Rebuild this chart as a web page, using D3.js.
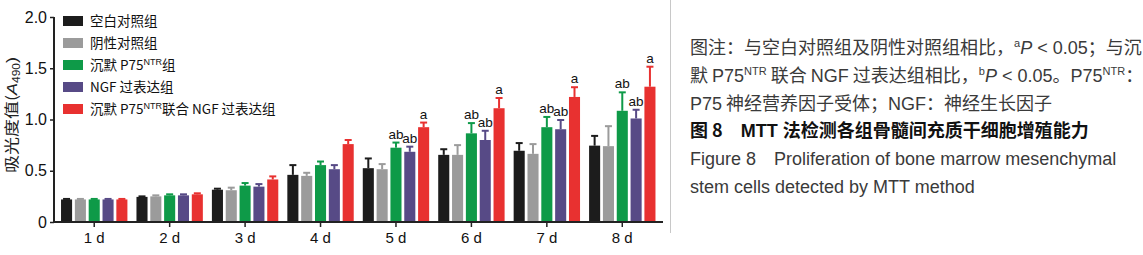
<!DOCTYPE html>
<html>
<head>
<meta charset="utf-8">
<script src="https://cdn.jsdelivr.net/npm/d3@7"></script>
<style>
  body { margin: 0; background: #fff; }
  svg { display: block; }
  .zh { font-family: "Noto Sans CJK SC", "Liberation Sans", sans-serif; }
  text { font-family: "Liberation Sans", "Noto Sans CJK SC", sans-serif; }
</style>
</head>
<body>
<svg id="chart" width="1143" height="255"></svg>
<script>
// categories / groups
const days = ["1 d", "2 d", "3 d", "4 d", "5 d", "6 d", "7 d", "8 d"];
const groups = ["blank", "neg", "siP75", "ngf", "siP75ngf"];
const legendNames = ["空白对照组", "阴性对照组", "沉默 P75|NTR|组", "NGF 过表达组", "沉默 P75|NTR|联合 NGF 过表达组"];
const colors = ["#1c1c1c", "#9b9b9b", "#0e9a48", "#574a86", "#e83130"];

// means per group (A490)
const blank    = [0.22, 0.245, 0.315, 0.46, 0.525, 0.655, 0.695, 0.745];
const neg      = [0.22, 0.25, 0.31, 0.45, 0.515, 0.655, 0.665, 0.74];
const siP75    = [0.22, 0.26, 0.355, 0.555, 0.725, 0.865, 0.925, 1.085];
const ngf      = [0.22, 0.26, 0.345, 0.515, 0.685, 0.80, 0.905, 1.01];
const siP75ngf = [0.22, 0.27, 0.415, 0.76, 0.925, 1.11, 1.22, 1.32];
// standard deviation (upper bars)
const blankSd    = [0.005, 0.005, 0.01, 0.095, 0.095, 0.055, 0.075, 0.095];
const negSd      = [0.005, 0.01, 0.025, 0.03, 0.05, 0.095, 0.095, 0.195];
const siP75Sd    = [0.005, 0.01, 0.025, 0.035, 0.05, 0.1, 0.1, 0.18];
const ngfSd      = [0.005, 0.01, 0.025, 0.04, 0.05, 0.09, 0.09, 0.085];
const siP75ngfSd = [0.005, 0.01, 0.03, 0.04, 0.045, 0.1, 0.095, 0.195];
// significance letters
const siP75Sig    = ["", "", "", "", "ab", "ab", "ab", "ab"];
const ngfSig      = ["", "", "", "", "ab", "ab", "ab", "ab"];
const siP75ngfSig = ["", "", "", "", "a", "a", "a", "a"];

const yTicks = [0, 0.5, 1.0, 1.5, 2.0];
const yTickLabels = ["0", "0.5", "1.0", "1.5", "2.0"];

const means = [blank, neg, siP75, ngf, siP75ngf];
const sds = [blankSd, negSd, siP75Sd, ngfSd, siP75ngfSd];
const sigs = [[], [], siP75Sig, ngfSig, siP75ngfSig];

const svg = d3.select("#chart");
const x0 = 54, x1 = 663, yTop = 17, yBot = 222;

let x = d3.scaleBand().domain(days).range([56.5, 660]).paddingInner(0.12).paddingOuter(0.06);
let xi = d3.scaleBand().domain(groups).range([0, x.bandwidth()]).paddingInner(0.2);
let y = d3.scaleLinear().domain([0, 2]).range([yBot, yTop]);

let rows = [];
days.forEach((d, i) => {
    groups.forEach((g, j) => {
        rows.push({day: d, group: g, gi: j, v: means[j][i], sd: sds[j][i], sig: sigs[j][i] || ""});
    });
});

// bars
let bars = svg.append("g");
bars.selectAll("rect")
    .data(rows)
    .enter()
    .append("rect")
    .attr("x", d => x(d.day) + xi(d.group))
    .attr("y", d => y(d.v))
    .attr("width", xi.bandwidth())
    .attr("height", d => yBot - y(d.v))
    .attr("fill", d => colors[d.gi]);

// error bars (upper only)
let errs = svg.append("g");
rows.forEach(d => {
    let cx = x(d.day) + xi(d.group) + xi.bandwidth() / 2;
    let top = y(d.v + d.sd);
    errs.append("line")
        .attr("x1", cx).attr("x2", cx)
        .attr("y1", y(d.v)).attr("y2", top)
        .attr("stroke", colors[d.gi]).attr("stroke-width", 2);
    errs.append("line")
        .attr("x1", cx - 3.5).attr("x2", cx + 3.5)
        .attr("y1", top).attr("y2", top)
        .attr("stroke", colors[d.gi]).attr("stroke-width", 2);
});

// significance letters
svg.append("g").selectAll("text")
    .data(rows.filter(d => d.sig !== ""))
    .enter()
    .append("text")
    .attr("x", d => x(d.day) + xi(d.group) + xi.bandwidth() / 2)
    .attr("y", d => y(d.v + d.sd) - 4)
    .attr("text-anchor", "middle")
    .attr("font-size", 13.5)
    .attr("fill", "#111")
    .text(d => d.sig);

// y axis
let yAxis = d3.axisLeft(y).tickValues(yTicks).tickFormat((d, i) => yTickLabels[i]).tickSize(4).tickSizeOuter(0);
let gy = svg.append("g").attr("transform", `translate(${x0},0)`).call(yAxis);
gy.select(".domain").attr("stroke", "#222").attr("stroke-width", 2).attr("d", `M0,${yTop}V${yBot + 1}`);
gy.selectAll(".tick line").attr("stroke", "#222").attr("stroke-width", 1.5);
gy.selectAll(".tick text").attr("font-size", 16).attr("fill", "#111").attr("x", -7)
    .attr("font-family", "Liberation Sans");

// x axis
let xAxis = d3.axisBottom(x).tickSize(5).tickSizeOuter(0);
let gx = svg.append("g").attr("transform", `translate(0,${yBot})`).call(xAxis);
gx.select(".domain").attr("stroke", "#222").attr("stroke-width", 2).attr("d", `M${x0 - 1},0H${x1}`);
gx.selectAll(".tick line").attr("stroke", "#222").attr("stroke-width", 1.5);
gx.selectAll(".tick text").attr("font-size", 15).attr("fill", "#111").attr("y", 10)
    .attr("font-family", "Liberation Sans");

// y axis title (stretched a little along its length, as in the source)
let yt = svg.append("text")
    .attr("transform", "translate(16.5,115) rotate(-90) scale(1.2,1)")
    .attr("text-anchor", "middle")
    .attr("font-size", 15)
    .attr("fill", "#222");
yt.append("tspan").attr("class", "zh").text("吸光度值(");
yt.append("tspan").attr("font-style", "italic").text("A");
yt.append("tspan").attr("font-size", 10).attr("dy", 3).text("490");
yt.append("tspan").attr("dy", -3).text(")");

// legend
let lg = svg.append("g");
legendNames.forEach((name, i) => {
    let ly = 21 + i * 22;
    lg.append("rect").attr("x", 63).attr("y", ly - 5).attr("width", 20).attr("height", 10)
        .attr("fill", colors[i]);
    let t = lg.append("text").attr("x", 90).attr("y", ly + 5).attr("font-size", 13.5).attr("fill", "#111");
    name.split("|").forEach((part, k) => {
        if (k === 1) {
            t.append("tspan").attr("font-size", 9).attr("dy", -5).text(part);
        } else if (k === 2) {
            t.append("tspan").attr("dy", 5).attr("class", "zh").text(part);
        } else {
            t.append("tspan").attr("class", "zh").text(part);
        }
    });
});

// separator
svg.append("line").attr("x1", 670.5).attr("x2", 670.5).attr("y1", 0).attr("y2", 233)
    .attr("stroke", "#c8c8c8").attr("stroke-width", 1);

// caption
const capX = 690;
const capColor = "#3a3a3a";
function capLine(yy, parts, bold) {
    let t = svg.append("text").attr("x", capX).attr("y", yy).attr("font-size", 18)
        .attr("fill", bold ? "#111" : capColor).attr("font-weight", bold ? "bold" : null);
    parts.forEach(p => {
        let s = t.append("tspan").text(p.t);
        if (p.zh) s.attr("class", "zh");
        if (p.it) s.attr("font-style", "italic");
        if (p.sup) s.attr("font-size", 11).attr("dy", -7);
        if (p.down) s.attr("dy", 7);
    });
    return t;
}
capLine(54, [
    {t: "图注：与空白对照组及阴性对照组相比，", zh: true},
    {t: "a", sup: true},
    {t: "P", it: true, down: true},
    {t: " < 0.05"},
    {t: "；与沉", zh: true}
]);
capLine(82, [
    {t: "默 ", zh: true},
    {t: "P75"},
    {t: "NTR", sup: true},
    {t: " 联合 ", zh: true, down: true},
    {t: "NGF"},
    {t: " 过表达组相比，", zh: true},
    {t: "b", sup: true},
    {t: "P", it: true, down: true},
    {t: " < 0.05"},
    {t: "。", zh: true},
    {t: "P75"},
    {t: "NTR", sup: true},
    {t: "：", zh: true, down: true}
]);
capLine(110, [
    {t: "P75"},
    {t: " 神经营养因子受体；", zh: true},
    {t: "NGF"},
    {t: "：神经生长因子", zh: true}
]);
capLine(137, [
    {t: "图 8", zh: true},
    {t: "\u2003MTT "},
    {t: "法检测各组骨髓间充质干细胞增殖能力", zh: true}
], true);
capLine(165, [{t: "Figure 8\u2003Proliferation of bone marrow mesenchymal"}]);
capLine(193, [{t: "stem cells detected by MTT method"}]);
</script>
</body>
</html>
